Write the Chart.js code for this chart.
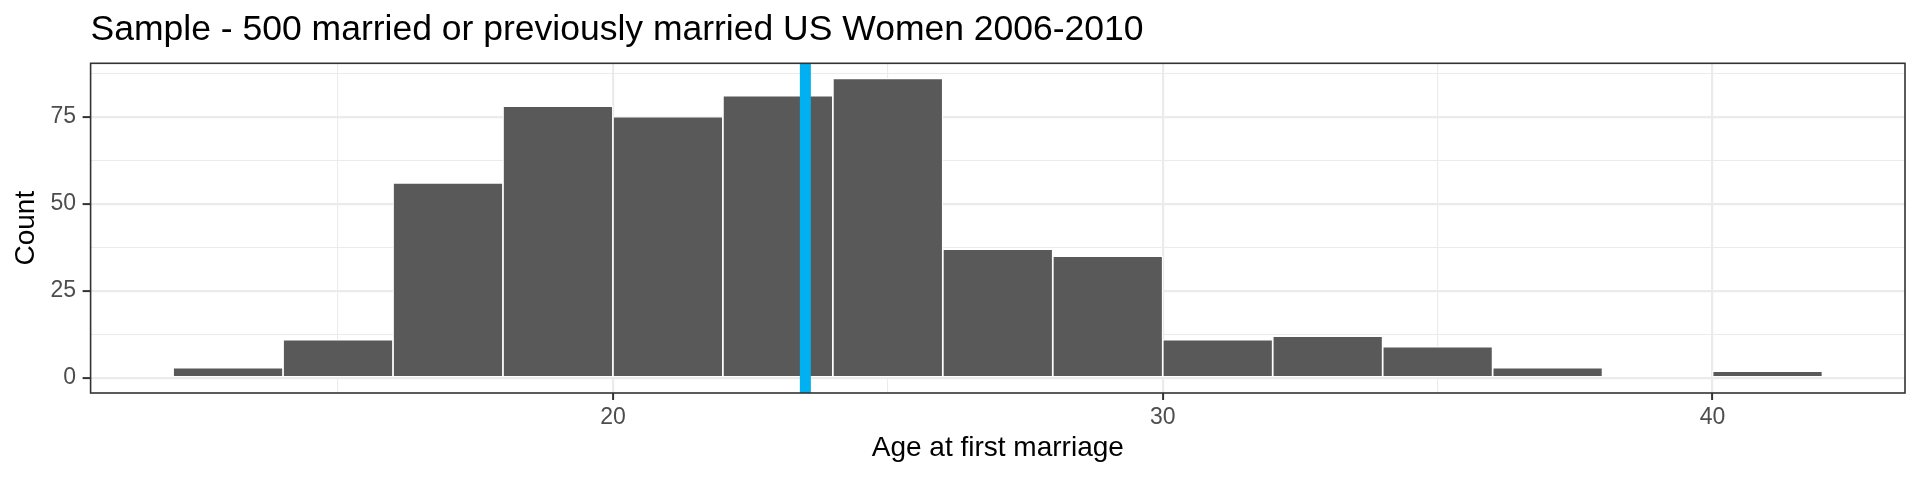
<!DOCTYPE html>
<html>
<head>
<meta charset="utf-8">
<title>Age at first marriage</title>
<script src="https://cdn.jsdelivr.net/npm/chart.js@4"></script>
<style>
  html, body { margin: 0; padding: 0; background: #ffffff; }
  #hist { display: block; }
</style>
</head>
<body>
<canvas id="hist" width="1920" height="480"></canvas>
<script>
// Histogram counts, 2-year bins starting at each value of binStarts
var binStarts = [12, 14, 16, 18, 20, 22, 24, 26, 28, 30, 32, 34, 36, 38, 40];
var counts = [3, 11, 56, 78, 75, 81, 86, 37, 35, 11, 12, 9, 3, 0, 2];
var binWidth = 2;
var meanAge = 23.5;   // blue vertical line

var xTicks = [15, 20, 25, 30, 35, 40];
var xLabels = [20, 30, 40];
var yTicks = [0, 12.5, 25, 37.5, 50, 62.5, 75, 87.5];
var yLabels = [0, 25, 50, 75];

var xMin = 10.5, xMax = 43.5;
var yMin = -4.3, yMax = 90.3;

var titleText = 'Sample - 500 married or previously married US Women 2006-2010';
var fontFamily = '"Liberation Sans", Arial, Helvetica, sans-serif';

var gridColor = '#ebebeb';
var darkColor = '#333333';

function isMajor(list, v) {
    return list.indexOf(v) !== -1;
}

// title sits on the left edge of the panel, like ggplot does it
var panelTitle = {
    id: 'panelTitle',
    afterDraw: function(chart) {
        var ctx = chart.ctx;
        ctx.save();
        ctx.font = '35.5px ' + fontFamily;
        ctx.fillStyle = '#000000';
        ctx.textBaseline = 'alphabetic';
        ctx.textAlign = 'left';
        ctx.fillText(titleText, chart.chartArea.left, 40);
        ctx.restore();
    }
};

// full border round the panel
var panelBorder = {
    id: 'panelBorder',
    afterDatasetsDraw: function(chart) {
        var a = chart.chartArea;
        var ctx = chart.ctx;
        ctx.save();
        ctx.strokeStyle = darkColor;
        ctx.lineWidth = 1.6;
        ctx.strokeRect(a.left, a.top, a.right - a.left, a.bottom - a.top);
        ctx.restore();
    }
};

var barData = binStarts.map(function(s, i) {
    return { x: s + binWidth / 2, y: counts[i] };
});

var ctx = document.getElementById('hist');

var histChart = new Chart(ctx, {
    type: 'bar',
    data: {
        datasets: [{
            type: 'line',
            label: 'mean',
            data: [{ x: meanAge, y: yMin }, { x: meanAge, y: yMax }],
            borderColor: '#00b0f0',
            borderWidth: 11,
            pointRadius: 0,
            fill: false,
            order: 0
        }, {
            label: 'Count',
            data: barData,
            backgroundColor: '#595959',
            borderColor: '#ffffff',
            borderWidth: 1.2,
            borderSkipped: false,
            barPercentage: 1,
            categoryPercentage: 1,
            order: 1
        }]
    },
    options: {
        responsive: false,
        animation: false,
        devicePixelRatio: 1,
        layout: {
            padding: { top: 63.3, left: 0, right: 15, bottom: 0 }
        },
        scales: {
            x: {
                type: 'linear',
                min: xMin,
                max: xMax,
                offset: false,
                afterBuildTicks: function(scale) {
                    scale.ticks = xTicks.map(function(v) { return { value: v }; });
                },
                afterFit: function(scale) {
                    scale.height = 87;
                },
                grid: {
                    offset: false,
                    color: function(c) { return gridColor; },
                    lineWidth: function(c) {
                        return c.tick && isMajor(xLabels, c.tick.value) ? 2.2 : 1.1;
                    },
                    tickLength: 7,
                    tickWidth: 2,
                    tickColor: function(c) {
                        return c.tick && isMajor(xLabels, c.tick.value) ? darkColor : 'rgba(0,0,0,0)';
                    }
                },
                border: { display: false },
                ticks: {
                    autoSkip: false,
                    maxRotation: 0,
                    padding: 3.5,
                    color: '#4d4d4d',
                    font: { family: fontFamily, size: 23 },
                    callback: function(value) {
                        return isMajor(xLabels, value) ? String(value) : '';
                    }
                },
                title: {
                    display: true,
                    text: 'Age at first marriage',
                    color: '#000000',
                    font: { family: fontFamily, size: 28 },
                    padding: { top: 0, bottom: 15 }
                }
            },
            y: {
                type: 'linear',
                min: yMin,
                max: yMax,
                afterBuildTicks: function(scale) {
                    scale.ticks = yTicks.map(function(v) { return { value: v }; });
                },
                afterFit: function(scale) {
                    scale.width = 90.6;
                },
                grid: {
                    color: function(c) { return gridColor; },
                    lineWidth: function(c) {
                        return c.tick && isMajor(yLabels, c.tick.value) ? 2.2 : 1.1;
                    },
                    tickLength: 8,
                    tickWidth: 2,
                    tickColor: function(c) {
                        return c.tick && isMajor(yLabels, c.tick.value) ? darkColor : 'rgba(0,0,0,0)';
                    }
                },
                border: { display: false },
                ticks: {
                    autoSkip: false,
                    padding: 6.5,
                    color: '#4d4d4d',
                    font: { family: fontFamily, size: 23 },
                    callback: function(value) {
                        return isMajor(yLabels, value) ? String(value) : '';
                    }
                },
                title: {
                    display: true,
                    text: 'Count',
                    color: '#000000',
                    font: { family: fontFamily, size: 28 },
                    padding: { top: 9, bottom: 0 }
                }
            }
        },
        plugins: {
            legend: { display: false },
            tooltip: { enabled: false },
            title: { display: false }
        }
    },
    plugins: [panelTitle, panelBorder]
});
</script>
</body>
</html>
